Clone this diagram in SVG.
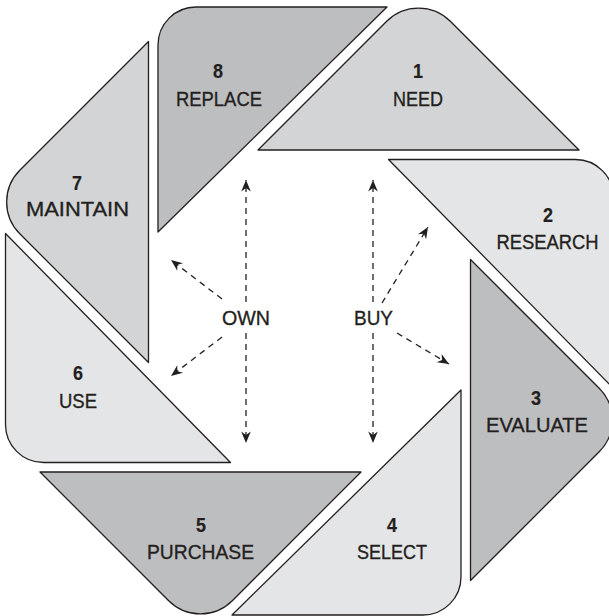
<svg xmlns="http://www.w3.org/2000/svg" width="609" height="616" viewBox="0 0 609 616">
<style>
.seg{stroke:#231f20;stroke-width:1.3;stroke-linejoin:round}
.dark{fill:#bdbec0}
.mid{fill:#d3d4d6}
.light{fill:#e4e5e6}
text{font-family:"Liberation Sans",Arial,sans-serif;font-size:21px;fill:#231f20;stroke:#231f20;stroke-width:0.35;text-anchor:middle}
.num{font-weight:bold;stroke-width:0.2}
.conn{fill:none;stroke:#231f20;stroke-width:1.3;stroke-dasharray:6 5}
</style>
<defs>
<marker id="ah" markerUnits="userSpaceOnUse" markerWidth="14" markerHeight="12" viewBox="-12 -6 14 12" refX="0" refY="0" orient="auto">
<path d="M0,0 L-11.5,-4.8 L-8,0 L-11.5,4.8 Z" fill="#231f20"/>
</marker>
</defs>
<rect width="609" height="616" fill="#ffffff"/>
<g id="node1">
<path class="seg mid" d="M579,150 L258,150 L386.7,21.3 A45 45 0 0 1 450.3,21.3 Z"/>
<text class="num" x="418" y="78" textLength="10" lengthAdjust="spacingAndGlyphs">1</text>
<text x="418" y="106" textLength="50" lengthAdjust="spacingAndGlyphs">NEED</text>
</g>
<g id="node2">
<path class="seg light" d="M388.5,159.5 L575.5,159.5 A38 38 0 0 1 613.5,197.5 L613.5,388.5 Z"/>
<text class="num" x="548" y="222" textLength="10" lengthAdjust="spacingAndGlyphs">2</text>
<text x="547.5" y="249" textLength="102" lengthAdjust="spacingAndGlyphs">RESEARCH</text>
</g>
<g id="node3">
<path class="seg dark" d="M470.5,259.5 L470.5,580.5 L599.2,451.8 A45 45 0 0 0 599.2,388.2 Z"/>
<text class="num" x="536" y="405" textLength="10" lengthAdjust="spacingAndGlyphs">3</text>
<text x="537" y="432" textLength="102" lengthAdjust="spacingAndGlyphs">EVALUATE</text>
</g>
<g id="node4">
<path class="seg light" d="M461,390 L461,577 A38 38 0 0 1 423,615 L232,615 Z"/>
<text class="num" x="392" y="532" textLength="10" lengthAdjust="spacingAndGlyphs">4</text>
<text x="392" y="559" textLength="70" lengthAdjust="spacingAndGlyphs">SELECT</text>
</g>
<g id="node5">
<path class="seg dark" d="M40,472 L361,472 L232.3,600.7 A45 45 0 0 1 168.7,600.7 Z"/>
<text class="num" x="201" y="532" textLength="10" lengthAdjust="spacingAndGlyphs">5</text>
<text x="200.5" y="559" textLength="107" lengthAdjust="spacingAndGlyphs">PURCHASE</text>
</g>
<g id="node6">
<path class="seg light" d="M230.5,462.5 L43.5,462.5 A38 38 0 0 1 5.5,424.5 L5.5,233.5 Z"/>
<text class="num" x="78" y="380" textLength="10" lengthAdjust="spacingAndGlyphs">6</text>
<text x="78" y="408" textLength="38" lengthAdjust="spacingAndGlyphs">USE</text>
</g>
<g id="node7">
<path class="seg mid" d="M148.5,41.5 L148.5,362.5 L19.8,233.8 A45 45 0 0 1 19.8,170.2 Z"/>
<text class="num" x="77" y="190" textLength="10" lengthAdjust="spacingAndGlyphs">7</text>
<text x="77.5" y="216" textLength="103" lengthAdjust="spacingAndGlyphs">MAINTAIN</text>
</g>
<g id="node8">
<path class="seg dark" d="M158,232 L158,45 A38 38 0 0 1 196,7 L387,7 Z"/>
<text class="num" x="218" y="78" textLength="10" lengthAdjust="spacingAndGlyphs">8</text>
<text x="219" y="106" textLength="86" lengthAdjust="spacingAndGlyphs">REPLACE</text>
</g>
<g id="own">
<text x="246" y="325" textLength="48" lengthAdjust="spacingAndGlyphs">OWN</text>
</g>
<g id="buy">
<text x="373.5" y="325" textLength="39" lengthAdjust="spacingAndGlyphs">BUY</text>
</g>
<g id="connectors">
<line class="conn" x1="246" y1="302" x2="246" y2="180" marker-end="url(#ah)"/>
<line class="conn" x1="246" y1="333" x2="246" y2="443" marker-end="url(#ah)"/>
<line class="conn" x1="222" y1="299" x2="171" y2="260" marker-end="url(#ah)"/>
<line class="conn" x1="222" y1="337" x2="171" y2="376" marker-end="url(#ah)"/>
<line class="conn" x1="373" y1="302" x2="373" y2="180" marker-end="url(#ah)"/>
<line class="conn" x1="373" y1="333" x2="373" y2="443" marker-end="url(#ah)"/>
<line class="conn" x1="382" y1="303" x2="428" y2="227" marker-end="url(#ah)"/>
<line class="conn" x1="397" y1="333" x2="449" y2="364" marker-end="url(#ah)"/>
</g>
</svg>
